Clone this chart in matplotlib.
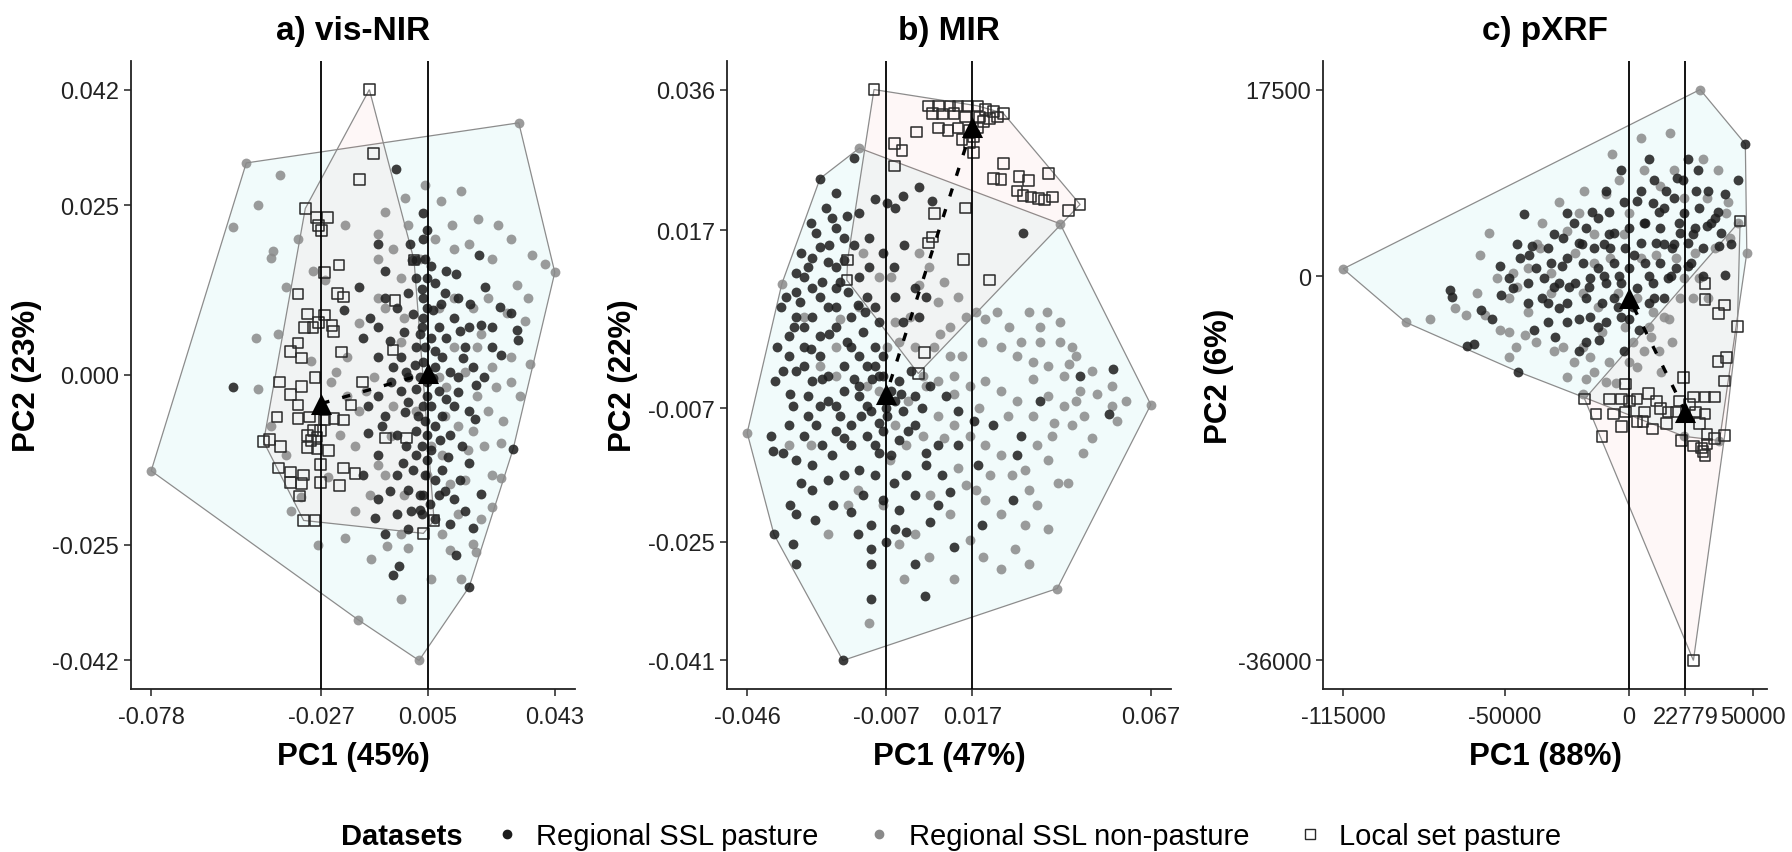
import numpy as np
import matplotlib
matplotlib.use("Agg")
import matplotlib.pyplot as plt
from matplotlib.lines import Line2D

plt.rcParams['font.family'] = ['Liberation Sans', 'DejaVu Sans']

# ---------------- a) vis-NIR  (scores x 1e-3) ----------------
a_pasture = [(-53.4,-1.7),(-4.6,30.3),(3.6,23.9),(4.8,21.4),(-0.4,19.3),(-10.1,19.3),(0.2,16.9),(1.4,16.9),(10.5,15.3),
    (13.3,14.9),(-7.8,15.3),(20.2,17.7),(29.9,9.1),(31.6,6.6),(31.9,5.2),(24.2,7.0),(20.8,7.3),(17.3,7.0),(-15.8,12.9),
    (-20.3,9.5),(-12.4,8.4),(-10.1,7.0),(-4.4,9.9),(3.6,11.3),(7.1,13.5),(8.2,7.0),(12.8,8.4),(16.2,4.1),(-10.1,2.6),
    (-5.5,1.2),(-3.2,2.6),(1.4,4.1),(5.9,5.5),(9.3,2.6),(13.9,-0.3),(18.5,1.2),(21.9,-0.3),(-3.2,-2.4),(-10.1,-3.1),
    (-0.9,-3.9),(4.8,-3.1),(8.2,-2.4),(12.8,-4.6),(17.3,-5.3),(-8.9,-7.5),(-4.4,-8.9),(1.4,-8.2),(7.1,-7.5),(11.6,-8.9),
    (15.1,-10.4),(30.5,-10.9),(1.4,-11.8),(4.8,-12.5),(9.3,-14.0),(17.3,-12.9),(-10.1,-11.8),(-14.6,-14.7),(-4.4,-14.7),
    (-0.9,-16.9),(2.5,-17.6),(8.2,-17.6),(12.8,-18.3),(18.5,-22.5),(-4.4,-20.5),(-0.9,-22.6),(2.5,-19.8),(-10.1,-18.3),
    (-5.5,-29.5),(-3.8,-28.1),(17.3,-31.2),(7.1,-21.2),(11.6,-21.9),(-7.8,-23.4),(-12.9,-8.6),(4.8,14.2),(1.4,14.2),
    (3.6,8.4),(-2.1,6.3),(-14.6,5.5),(-7.8,11.3),(24.2,4.1),(10.5,5.5),(13.9,11.3),(-0.9,-0.3),(2.5,-0.3),(7.1,1.2),
    (9.3,-6.0),(4.8,-8.9),(3.6,20.0),(4.2,17.1),(3.1,12.7),(4.8,9.9),(3.1,7.0),(4.2,4.1),(3.6,1.9),(4.8,-1.0),(3.6,-4.6),
    (4.2,-6.8),(3.1,-10.4),(4.2,-14.7),(3.6,-17.6),(3.1,-20.5),(-1.0,12.0),(6.0,16.0),(9.0,10.5),(0.5,9.0),(6.5,9.5),
    (-6.5,5.0),(2.5,6.0),(7.0,3.5),(-1.5,0.5),(1.0,1.5),(6.5,-0.5),(11.5,0.5),(-6.0,-1.0),(1.5,-2.0),(6.0,-4.5),
    (10.5,-3.5),(-2.0,-5.5),(2.0,-6.0),(8.5,-9.5),(-1.5,-10.5),(6.0,-11.0),(11.0,-12.0),(0.5,-14.0),(7.0,-15.5),
    (-2.5,-13.0),(14.5,-15.5),(10.0,-17.0),(5.5,-19.0),(0.0,-20.0),(14.0,-2.5),(15.5,2.5),(19.5,-1.5),(19.0,-6.5),
    (14.5,6.5),(10.0,12.0),(17.5,10.5),(22.0,13.0),(26.5,10.0),(27.0,3.0),(-8.0,-6.0),(-13.0,-4.5),(-6.5,-17.0),
    (-11.0,-21.0),(13.5,-26.5),(21.0,-17.5),(16.0,-20.0)]
a_nonpasture = [(-78.0,-14.1),(-49.5,31.2),(-39.5,29.5),(32.2,37.1),(43.0,15.1),(-16.0,-36.0),(2.3,-42.0),(-53.4,21.8),
    (-46.0,25.0),(-41.5,18.2),(-42.0,17.2),(-37.5,12.9),(-46.6,5.5),(-29.5,15.3),(8.8,25.6),(12.2,22.1),(17.3,19.3),
    (24.2,17.1),(36.2,17.7),(40.2,16.4),(31.6,13.3),(28.7,9.1),(35.0,11.3),(35.5,1.6),(32.5,-3.1),(27.0,-15.1),
    (24.2,-19.4),(20.8,-21.2),(18.5,-24.8),(11.6,-25.7),(-7.2,-25.2),(-0.9,-25.5),(-12.4,-17.6),(-16.9,-10.4),
    (-21.5,-8.9),(-15.8,-5.3),(-13.5,-2.4),(-11.2,-0.3),(-19.2,2.6),(-22.6,0.5),(-10.1,20.7),(-10.1,17.1),(-5.5,18.5),
    (-3.2,14.2),(-10.1,11.3),(-2.1,8.4),(-15.8,7.7),(8.2,9.9),(12.8,11.3),(18.5,9.9),(23.0,11.3),(24.2,1.2),(25.3,-1.7),
    (19.6,-3.1),(23.0,-5.3),(21.9,-10.4),(18.5,-8.2),(16.2,-15.4),(24.2,-14.7),(11.6,-16.1),(4.8,-14.7),(9.3,-23.4),
    (13.9,-20.5),(-3.2,-23.4),(-7.8,-14.7),(-10.1,-13.3),(-19.2,-3.1),(-42.0,-7.5),(-37.5,-11.8),(10.5,-1.7),(1.4,-5.3),
    (-5.5,-4.6),(5.9,-10.4),(16.2,0.5),(29.9,2.6),(27.6,-6.8),(12.8,18.5),(7.1,20.0),(2.5,17.1),(-0.9,22.1),(-7.8,9.9),
    (12.8,4.1),(19.6,4.1),(-3.2,4.8),(8.2,-0.3),(13.9,-7.5),(9.3,-11.8),(-2.1,-17.6),(-25.0,-15.0),(-24.0,-1.0),
    (-30.0,2.0),(-26.0,14.0),(-33.0,-18.0),(-17.0,-20.0),(-8.0,24.0),(-2.0,26.0),(4.0,28.0),(15.0,27.0),(20.0,23.0),
    (26.0,22.0),(30.0,20.0),(34.0,8.0),(30.0,-1.0),(27.0,-10.0),(19.5,-26.0),(15.0,-30.0),(6.0,-30.0),(-3.0,-33.0),
    (-12.0,-27.0),(-20.0,-24.0),(-28.0,-25.0),(-36.0,-20.0),(-46.0,-2.0),(-40.0,6.0),(-34.0,20.0),(-20.0,22.0),
    (10.0,-6.0),(-6.0,-9.0),(17.0,-11.0),(21.0,6.0)]
a_local = [(-12.6,42.0),(-11.4,32.6),(-15.6,28.8),(-31.8,24.5),(-28.6,23.2),(-25.1,23.2),(-27.8,22.0),(-27.0,21.3),
    (-21.7,16.2),(-26.1,15.1),(-34.0,11.9),(-22.1,12.0),(-20.3,11.5),(-4.9,11.0),(-31.2,9.0),(-26.1,8.8),(-27.8,7.7),
    (-23.8,7.3),(-32.0,7.0),(-29.5,7.0),(-23.4,6.4),(-34.0,4.7),(-36.3,3.5),(-32.9,2.5),(-20.9,3.4),(-5.5,3.7),
    (-39.5,-1.0),(-28.9,-0.4),(-14.6,-1.0),(-32.9,-1.7),(-36.3,-2.9),(-34.0,-4.4),(-18.1,-4.4),(-40.3,-6.2),(-34.0,-6.4),
    (-30.6,-6.2),(-26.1,-6.6),(-23.2,-6.4),(-20.3,-6.6),(-29.5,-8.2),(-27.2,-8.2),(-31.2,-8.9),(-30.1,-9.6),(-28.3,-9.1),
    (-44.3,-9.8),(-42.6,-9.5),(-39.2,-10.5),(-31.2,-10.7),(-28.3,-10.9),(-24.9,-11.1),(-7.8,-9.3),(-1.5,-9.3),
    (-39.8,-13.7),(-27.2,-13.2),(-20.3,-13.7),(-16.9,-14.5),(-36.3,-14.3),(-32.3,-14.7),(-36.3,-15.8),(-32.9,-16.0),
    (-27.2,-15.8),(-21.5,-16.3),(-33.5,-17.8),(-32.3,-21.4),(-28.9,-21.4),(3.6,-23.3),(6.8,-21.4),(0.8,16.9)]
a_centroids = [(-27.0,-4.2),(5.0,0.3)]      # local, regional
a_xticks = [-0.078,-0.027,0.005,0.043]
a_yticks = [0.042,0.025,0.000,-0.025,-0.042]

# ---------------- b) MIR  (scores x 1e-3) ----------------
b_pasture = [(-25.6,24.0),(-21.2,22.0),(-16.2,26.7),(-22.3,18.7),(-26.7,16.7),(-21.2,17.3),(-25.6,14.7),(-19.0,16.0),
    (-14.6,19.3),(-10.2,21.3),(-6.9,20.7),(-4.7,20.0),(2.0,22.8),(-2.5,21.7),(5.8,21.0),(31.2,16.7),(-32.2,11.3),
    (-30.0,10.7),(-27.8,9.3),(-25.6,8.0),(-23.4,6.7),(-21.2,12.0),(-17.9,8.7),(-14.6,10.7),(-12.4,8.0),(-10.2,6.7),
    (-27.8,5.3),(-32.2,5.3),(-34.4,2.7),(-30.0,1.3),(-25.6,2.7),(-21.2,4.0),(-16.8,5.3),(-13.5,3.3),(-9.1,4.7),(-4.7,8.0),
    (0.9,9.3),(4.2,8.0),(2.0,5.3),(-2.5,4.7),(-10.2,1.3),(-14.6,0.0),(-19.0,-1.3),(-23.4,-2.7),(-27.8,-3.3),(-32.2,-2.0),
    (-37.7,1.3),(-38.3,-3.3),(-33.3,-6.7),(-28.9,-5.3),(-23.4,-6.0),(-19.0,-4.7),(-14.6,-5.3),(-11.3,-7.3),(-6.9,-8.0),
    (-2.5,-7.3),(0.9,-5.3),(-3.6,-3.3),(5.3,-4.0),(9.7,-5.3),(13.0,-7.3),(17.4,-8.7),(22.9,-9.3),(30.6,-10.7),(36.1,-6.0),
    (47.2,-2.7),(55.4,-7.7),(56.5,-1.7),(-39.4,-10.7),(-38.8,-12.7),(-32.2,-14.0),(-27.8,-14.7),(-22.3,-13.3),
    (-16.8,-12.0),(-12.4,-10.7),(-8.0,-10.0),(-14.6,-15.3),(-10.2,-16.0),(-5.8,-13.3),(-1.4,-16.0),(4.2,-14.7),
    (8.6,-16.0),(13.0,-12.0),(18.5,-14.7),(29.5,-13.3),(-27.8,-18.0),(-23.4,-16.7),(-19.0,-16.0),(-13.5,-18.7),
    (-8.0,-19.3),(-3.6,-20.7),(0.9,-18.7),(7.5,-20.0),(10.8,-18.3),(-32.2,-21.3),(-11.3,-22.7),(-4.7,-23.3),(-1.4,-23.7),
    (5.3,-22.3),(11.9,-25.7),(19.6,-22.7),(-33.3,-25.3),(-32.4,-28.0),(-11.3,-26.0),(-11.3,-28.0),(-11.3,-32.7),
    (3.9,-32.3),(-19.2,-41.0),(-38.5,-24.0),(28.4,-19.3),(-9.1,-2.7),(-5.8,-4.7),(-10.2,-1.3),(-12.4,-6.7),(-4.7,-6.0),
    (-8.0,-2.7),(-14.6,-4.0),(-21.2,-6.7),(-21.2,-10.0),(-26.7,-9.3),(-30.0,-10.7),(-34.4,-9.3),(-36.6,6.7),(-32.2,8.7),
    (-34.4,0.0),(-30.0,-1.3),(-25.6,0.0),(-21.2,9.3),(-23.4,12.7),(-27.8,13.3),(-31.1,7.3),(-21.2,6.7),(-16.8,1.3),
    (-12.4,-1.3),(-8.0,0.0),(-30.0,4.0),(-25.6,-6.7),(-16.8,-9.3),(-10.2,-12.0),(-3.6,-11.3),(0.9,-9.3),(7.5,-12.0),
    (-28.0,18.0),(-24.0,20.0),(-19.0,13.0),(-16.0,15.0),(-12.0,12.0),(-29.0,12.0),(-35.0,8.0),(-25.0,10.0),(-20.0,10.0),
    (-15.0,7.0),(-33.0,4.0),(-28.0,1.0),(-23.0,3.0),(-18.0,2.0),(-13.0,6.0),(-11.0,-3.0),(-7.0,-7.0),(-3.0,-5.0),
    (-16.0,-3.0),(-20.0,-8.0),(-25.0,-3.0),(-29.0,-8.0),(-34.0,-5.0),(-36.0,-13.0),(-31.0,-17.0),(-25.0,-12.0),
    (-19.0,-11.0),(-14.0,-8.0),(-9.0,-13.0),(-5.0,-17.0),(-1.0,-10.0),(3.0,-7.0),(-17.0,-21.0),(-22.0,-20.0),
    (-27.0,-22.0),(-7.0,-25.0),(-15.0,-24.0),(1.0,-28.0),(-36.0,-2.0),(-31.0,14.0),(-23.0,15.0),(-18.0,19.0),
    (-12.0,16.0),(-8.0,14.0),(-5.0,12.0),(-2.0,15.0),(-34.0,-20.0),(0.0,-2.0),(4.0,-13.0),(-9.0,-9.0)]
b_nonpasture = [(-46.0,-10.3),(40.8,-31.3),(67.0,-6.5),(41.6,17.9),(-14.6,28.1),(-36.3,9.8),(-13.5,14.0),(-9.1,10.7),
    (2.0,9.7),(7.5,7.3),(10.8,4.0),(15.2,5.3),(20.7,5.0),(27.3,4.0),(30.6,2.0),(36.1,4.0),(41.6,2.0),(46.1,0.0),(50.5,-2.0),
    (47.2,-4.7),(42.7,-2.7),(38.3,-1.3),(33.9,-0.7),(29.5,0.0),(25.1,1.3),(19.6,2.0),(14.1,0.0),(10.8,0.0),(6.4,1.3),
    (3.1,-2.7),(7.5,-3.3),(11.9,-2.7),(16.3,-4.0),(20.7,-3.3),(25.1,-4.7),(29.5,-6.0),(33.9,-8.0),(38.3,-5.3),(42.7,-6.7),
    (45.0,-9.3),(39.4,-10.7),(35.0,-12.0),(31.7,-15.3),(38.3,-14.0),(43.9,-17.0),(50.5,-11.0),(57.6,-8.7),(25.1,-13.3),
    (20.7,-12.0),(16.3,-10.7),(11.9,-9.3),(7.5,-8.0),(3.1,-10.7),(-1.4,-12.0),(-4.7,-9.3),(-9.1,-4.7),(0.9,1.3),
    (-3.6,2.0),(-6.9,1.3),(-0.3,5.3),(-4.7,4.7),(-21.2,1.3),(-25.6,-1.3),(-14.6,6.7),(-12.4,-4.0),(-17.9,-20.0),
    (15.2,-17.3),(20.7,-19.3),(25.1,-21.3),(32.8,-18.0),(38.3,-23.3),(10.8,-21.3),(5.3,-18.7),(0.9,-24.0),(-3.6,-25.3),
    (-8.0,-20.0),(25.1,-28.7),(16.3,-24.7),(-23.4,-24.0),(-21.2,-2.7),(-5.8,10.7),(-30.0,5.3),(-34.4,-12.0),(31.7,-22.7),
    (56.0,-6.7),(48.3,-8.0),(45.0,1.3),(41.6,4.7),(36.1,2.0),(5.0,12.0),(9.0,10.0),(13.0,8.0),(18.0,6.0),(24.0,6.0),
    (33.0,6.0),(38.0,6.0),(44.0,-1.0),(52.0,-5.0),(48.0,-13.0),(41.0,-17.0),(35.0,-20.0),(28.0,-16.0),(22.0,-16.0),
    (18.0,-18.0),(13.0,-15.0),(9.0,-11.0),(4.0,-4.0),(12.0,-5.0),(19.0,-7.0),(27.0,-8.0),(34.0,-3.0),(40.0,-9.0),
    (46.0,-6.0),(56.0,-4.0),(60.0,-6.0),(29.0,-26.0),(20.0,-27.0),(12.0,-30.0),(5.0,-27.0),(-2.0,-30.0),(-12.0,-36.0),
    (33.0,-28.0),(-20.0,5.0),(-28.0,-12.0),(-15.0,-18.0),(-6.0,-14.0),(-1.0,-6.0),(2.0,14.0),(8.0,3.0)]
b_local = [(-10.5,36.0),(4.7,33.8),(7.5,33.8),(10.8,33.8),(13.0,33.8),(15.7,33.8),(18.5,33.8),(20.7,33.3),(22.9,33.0),
    (25.7,32.8),(5.8,32.8),(8.6,32.7),(11.9,32.8),(15.2,32.3),(19.1,32.3),(21.8,32.1),(24.0,32.3),(7.5,30.8),(10.2,30.5),
    (13.0,30.8),(16.3,30.5),(18.5,30.8),(20.1,31.7),(1.4,30.3),(17.4,29.7),(14.1,29.3),(16.3,28.8),(-4.7,28.7),
    (-2.7,27.8),(17.4,27.5),(-4.7,25.7),(25.7,26.0),(22.9,24.0),(25.1,23.9),(30.1,24.3),(32.8,23.7),(38.3,24.7),
    (29.5,22.3),(31.2,21.7),(33.4,21.5),(35.6,21.3),(37.2,21.1),(39.4,21.5),(43.9,19.7),(47.2,20.5),(6.4,19.3),
    (15.2,20.0),(5.8,16.1),(4.7,15.3),(14.5,13.1),(21.8,10.3),(-17.9,13.0),(-18.1,10.3),(3.6,0.5),(1.9,-2.3)]
b_centroids = [(17.0,31.0),(-7.0,-5.0)]
b_xticks = [-0.046,-0.007,0.017,0.067]
b_yticks = [0.036,0.017,-0.007,-0.025,-0.041]

# ---------------- c) pXRF  (scores x 1e3) ----------------
c_pasture = [(46.9,12.4),(-44.5,-8.95),(19.3,9.2),(-9.2,8.0),(18.2,7.3),(38.6,7.75),(3.3,7.06),(9.6,6.83),(14.3,6.36),
    (22.1,5.9),(28.4,6.36),(34.6,5.43),(-42.1,5.8),(-24.9,5.9),(-17.1,4.5),(-12.4,5.43),(-6.1,4.04),(0.2,4.5),(6.4,4.97),
    (12.7,4.5),(20.5,4.04),(26.8,4.5),(31.5,4.74),(37.0,4.04),(-39.0,2.88),(-32.7,2.65),(-26.5,3.58),(-20.2,3.11),
    (-13.9,2.65),(-7.7,2.65),(-1.4,2.65),(4.9,3.11),(11.1,3.11),(17.4,2.65),(23.7,3.11),(29.9,2.65),(36.2,2.88),
    (-48.4,-0.14),(-43.7,1.72),(-37.4,0.79),(-31.2,1.26),(-24.9,1.72),(-18.6,1.26),(-12.4,0.79),(-6.1,1.26),(0.2,0.79),
    (6.4,1.26),(12.7,1.26),(19.0,0.79),(25.2,1.26),(38.6,0.1),(-71.9,-1.3),(-71.1,-1.9),(-51.5,-1.76),(-46.8,-1.07),
    (-40.6,-0.6),(-34.3,-0.14),(-28.0,-0.6),(-21.8,-0.6),(-15.5,-0.14),(-9.2,-0.6),(-3.0,-0.6),(3.3,-1.07),(9.6,-0.6),
    (15.8,-0.14),(-59.4,-3.15),(-40.6,-2.46),(-32.7,-2.46),(-24.9,-2.46),(-17.1,-2.0),(-10.8,-2.46),(-4.5,-2.92),
    (1.7,-2.92),(8.0,-2.46),(14.3,-2.0),(-32.7,-4.31),(-24.9,-4.31),(-15.5,-3.85),(-9.2,-4.31),(-3.0,-3.85),(-29.6,-5.7),
    (-17.1,-6.17),(-62.5,-6.31),(-12.4,-4.78),(-30.0,4.0),(-22.0,5.0),(-15.0,6.0),(-8.0,6.0),(-2.0,7.0),(5.0,8.0),
    (10.0,9.0),(15.0,8.0),(22.0,9.0),(27.0,8.0),(32.0,8.0),(36.0,6.0),(-35.0,-2.0),(-28.0,-3.0),(-20.0,-4.0),
    (-12.0,-6.0),(-6.0,-2.0),(0.0,-4.0),(4.0,-5.0),(10.0,-2.0),(17.0,0.0),(24.0,1.0),(30.0,0.0),(33.0,5.0),(-45.0,3.0),
    (-52.0,1.0),(-38.0,-5.0),(-27.0,1.0),(-19.0,3.0),(-10.0,3.0),(-4.0,0.0),(2.0,2.0),(8.0,0.0),(14.0,3.0),(20.0,5.0),
    (26.0,4.0),(-16.0,-1.0),(-24.0,-1.0),(-8.0,4.0),(6.0,5.0),(12.0,6.0),(18.0,3.0),(-2.0,-7.0),(-20.0,-7.0),(-55.0,-4.0),
    (-65.0,-6.5),(-3.0,10.0),(8.0,11.0),(24.0,11.0),(44.0,9.0),(41.0,3.0),(-10.0,0.0),(-30.0,-1.0),(-40.0,2.0),(28.0,10.0)]
c_nonpasture = [(-115.0,0.7),(-89.9,-4.3),(28.7,17.5),(47.5,2.2),(16.6,13.4),(-6.9,11.5),(12.7,8.45),(-9.2,7.75),
    (-56.2,4.04),(-24.9,4.27),(-20.2,5.9),(-35.9,2.65),(0.2,5.9),(22.1,7.3),(31.5,7.3),(39.3,5.9),(40.9,3.58),(34.6,2.65),
    (26.8,2.18),(19.0,1.72),(11.1,1.95),(4.9,1.72),(-7.7,1.72),(-13.9,1.26),(-21.8,2.18),(-31.2,0.33),(-40.6,0.79),
    (-46.8,0.33),(-53.1,-0.14),(-61.0,-1.53),(-65.6,-3.62),(-57.8,-3.62),(-48.4,-2.0),(-40.6,-3.38),(-48.4,-5.24),
    (-45.3,-6.63),(-48.4,-7.56),(-37.4,-6.17),(-26.5,-6.63),(-18.6,-6.63),(-15.5,-7.56),(-10.8,-5.24),(-1.4,-4.78),
    (1.7,-6.17),(8.0,-4.78),(17.4,-6.17),(14.3,-3.85),(20.5,-2.0),(22.1,-0.14),(28.4,-0.14),(3.3,-8.49),(8.8,-5.7),
    (-24.9,-9.42),(-17.1,-9.65),(-9.2,-9.88),(-12.4,-2.92),(-4.5,-1.53),(-18.6,-1.53),(3.3,-2.0),(9.6,-3.38),
    (-31.2,-1.53),(22.3,-15.0),(36.5,-15.4),(-18.6,-11.0),(-60.0,2.0),(-70.0,-3.0),(-80.0,-4.0),(-52.0,-5.0),
    (-42.0,-5.5),(-30.0,-7.0),(-22.0,-8.0),(-8.0,-8.0),(0.0,-8.0),(6.0,-7.0),(12.0,-7.0),(-35.0,5.0),(-28.0,7.0),
    (-18.0,8.0),(-4.0,9.0),(6.0,10.0),(18.0,10.0),(30.0,11.0),(36.0,10.0),(40.0,7.0),(44.0,5.0),(26.0,-2.0),(32.0,-2.0),
    (16.0,-4.0),(-2.0,4.0),(-14.0,4.0),(-45.0,-1.0),(-37.0,3.0),(5.0,13.0),(13.0,-9.0),(-14.0,-9.0),(-5.0,-10.0)]
c_local = [(44.8,5.2),(30.7,-0.7),(30.7,-2.2),(36.2,-3.5),(38.6,-2.7),(43.7,-4.7),(39.3,-7.6),(35.9,-8.0),(38.6,-9.8),
    (22.1,-9.5),(-1.4,-10.1),(34.6,-11.3),(30.7,-11.3),(26.0,-11.3),(8.0,-11.0),(3.3,-11.5),(0.2,-11.7),(-3.0,-11.5),
    (-7.7,-11.5),(-17.8,-11.5),(-13.2,-12.9),(-6.1,-12.9),(-1.4,-12.7),(6.4,-12.7),(12.7,-12.4),(15.8,-12.7),(19.0,-12.7),
    (26.8,-12.7),(30.7,-12.9),(5.7,-13.6),(9.6,-14.3),(3.3,-13.6),(15.1,-13.8),(-3.0,-14.1),(-10.8,-15.0),(21.3,-15.4),
    (26.0,-15.9),(29.2,-16.1),(31.5,-15.7),(34.6,-15.2),(38.6,-14.9),(30.7,-16.8),(29.9,-16.4),(26.0,-36.0),(31.5,-14.8),
    (28.4,-13.8),(24.5,-12.0),(20.5,-11.7),(11.1,-11.7)]
c_centroids = [(22.779,-12.7),(0.0,-2.0)]
c_xticks = [-115000,-50000,0,22779,50000]
c_yticks = [17500,0,-36000]

panels = [
    ("a) vis-NIR", "PC1 (45%)", "PC2 (23%)", 1e-3, a_pasture, a_nonpasture, a_local, a_centroids,
     a_xticks, ["-0.078","-0.027","0.005","0.043"], a_yticks, ["0.042","0.025","0.000","-0.025","-0.042"]),
    ("b) MIR", "PC1 (47%)", "PC2 (22%)", 1e-3, b_pasture, b_nonpasture, b_local, b_centroids,
     b_xticks, ["-0.046","-0.007","0.017","0.067"], b_yticks, ["0.036","0.017","-0.007","-0.025","-0.041"]),
    ("c) pXRF", "PC1 (88%)", "PC2 (6%)", 1e3, c_pasture, c_nonpasture, c_local, c_centroids,
     c_xticks, ["-115000","-50000","0","22779","50000"], c_yticks, ["17500","0","-36000"]),
]

col_pasture = "#1c1c1c"
col_nonpasture = "#8a8a8a"


def hull(pts):
    pts = sorted(set(map(tuple, pts)))
    def cross(o, a, b):
        return (a[0]-o[0])*(b[1]-o[1]) - (a[1]-o[1])*(b[0]-o[0])
    lower, upper = [], []
    for p in pts:
        while len(lower) >= 2 and cross(lower[-2], lower[-1], p) <= 0:
            lower.pop()
        lower.append(p)
    for p in reversed(pts):
        while len(upper) >= 2 and cross(upper[-2], upper[-1], p) <= 0:
            upper.pop()
        upper.append(p)
    return np.array(lower[:-1] + upper[:-1])


fig = plt.figure(figsize=(17.92, 8.53), dpi=100)
lefts = [131, 727, 1323]
W, H = 1792.0, 853.0
for (title, xl, yl, k, past, nonp, loc, cen, xt, xtl, yt, ytl), lx in zip(panels, lefts):
    ax = fig.add_axes([lx/W, 1-690/H, 444/W, 628/H])
    past = np.array(past)*k
    nonp = np.array(nonp)*k
    loc = np.array(loc)*k
    cen = np.array(cen)*k

    reg = hull(np.vstack([past, nonp]))
    ax.fill(reg[:, 0], reg[:, 1], facecolor=(0.0, 0.75, 0.77, 0.055), edgecolor="#8c8c8c", lw=0.9, zorder=1)
    lh = hull(loc)
    ax.fill(lh[:, 0], lh[:, 1], facecolor=(0.97, 0.46, 0.43, 0.055), edgecolor="#8c8c8c", lw=0.9, zorder=1)

    ax.scatter(nonp[:, 0], nonp[:, 1], s=50, color=col_nonpasture, alpha=0.85, lw=0, zorder=2)
    ax.scatter(past[:, 0], past[:, 1], s=50, color=col_pasture, alpha=0.85, lw=0, zorder=3)
    ax.scatter(loc[:, 0], loc[:, 1], s=58, marker="s", facecolor="none", edgecolor="#2a2a2a", lw=1.1, zorder=4)

    for x in cen[:, 0]:
        ax.axvline(x, color="black", lw=1.3, zorder=5)
    ax.plot(cen[:, 0], cen[:, 1], color="black", lw=2.4, ls=(0, (2.5, 4)), zorder=6)
    ax.scatter(cen[:, 0], cen[:, 1], s=230, marker="^", color="black", lw=0, zorder=7)

    ax.set_xticks(xt)
    ax.set_xticklabels(xtl)
    ax.set_yticks(yt)
    ax.set_yticklabels(ytl)
    ax.tick_params(labelsize=17, colors="#222222", length=5, width=1.1)
    ax.tick_params(axis="x", pad=7)
    for s in ["top", "right"]:
        ax.spines[s].set_visible(False)
    for s in ["left", "bottom"]:
        ax.spines[s].set_linewidth(1.3)
        ax.spines[s].set_color("#222222")

    ax.set_xlabel(xl, fontsize=22.5, fontweight="bold", va="center")
    ax.xaxis.set_label_coords(0.5, -0.107)
    ax.set_ylabel(yl, fontsize=22.5, fontweight="bold", va="center")
    ax.yaxis.set_label_coords(-0.235, 0.5)
    ax.text(0.5, 1 + 30/628, title, transform=ax.transAxes, ha="center", va="center",
            fontsize=24, fontweight="bold")

handles = [
    Line2D([], [], ls="none", marker="o", ms=6, color=col_pasture),
    Line2D([], [], ls="none", marker="o", ms=6, color=col_nonpasture),
    Line2D([], [], ls="none", marker="s", ms=7, mfc="none", mec="#2a2a2a", mew=1.0),
]
labels = ["Regional SSL pasture", "Regional SSL non-pasture", "Local set pasture"]
fig.text(341/W, 1-837/H, "Datasets", fontsize=21, fontweight="bold", ha="left", va="center")
fig.legend(handles, labels, loc="center left", bbox_to_anchor=(492/W, 1-837/H), ncol=3, frameon=False,
           fontsize=21, handletextpad=0.5, columnspacing=1.6, handlelength=1.0, borderaxespad=0, borderpad=0)

fig.savefig("out.png", dpi=100)
